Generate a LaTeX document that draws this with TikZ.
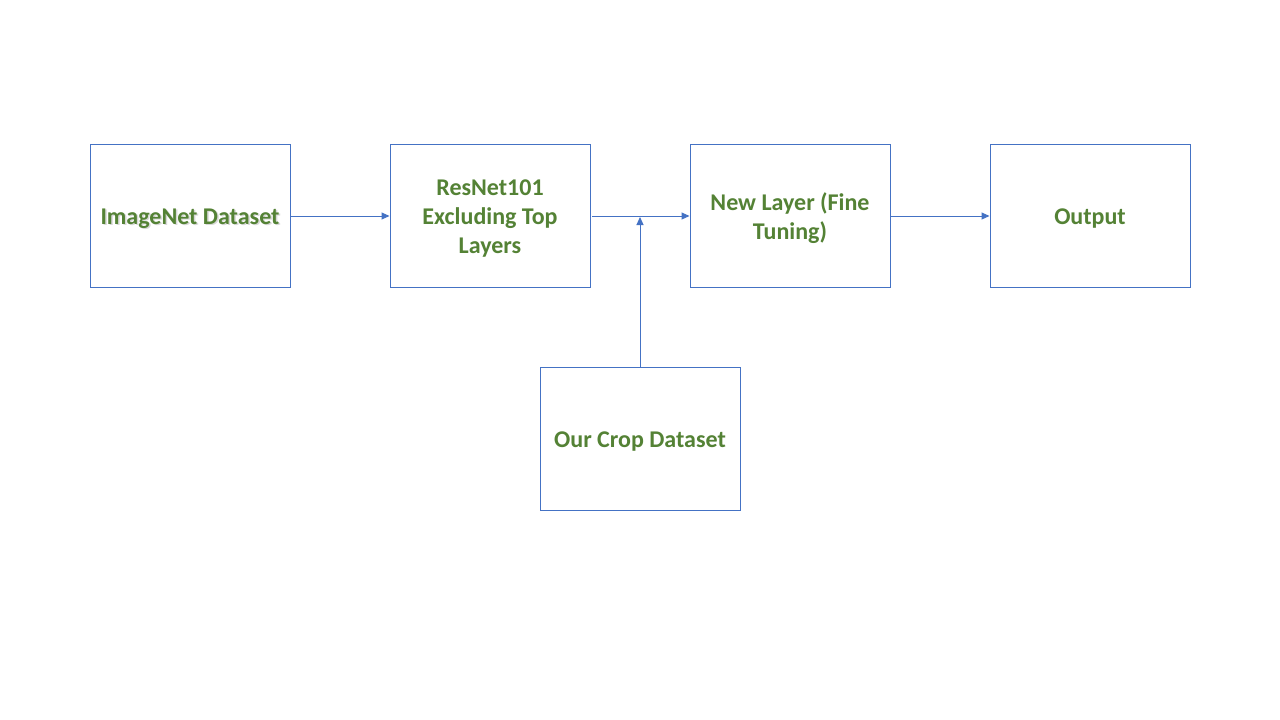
\documentclass[tikz,border=0pt]{standalone}
\usepackage{fontspec}
\setmainfont{Carlito}
\usetikzlibrary{arrows.meta}
\definecolor{boxblue}{HTML}{4472C4}
\definecolor{txtgreen}{HTML}{548235}
\tikzset{
  blkfont/.style={font=\fontsize{24}{29}\selectfont\bfseries},
  blk/.style={draw=boxblue, line width=1pt, minimum width=200pt, minimum height=143pt, inner sep=0pt},
  blktext/.style={align=center, text=txtgreen, blkfont, inner sep=0pt},
  conn/.style={draw=boxblue, line width=1pt, -{Triangle[length=8pt,width=7pt]}}
}
\begin{document}
\begin{tikzpicture}[x=1pt,y=-1pt]
\useasboundingbox (0,0) rectangle (1280,720);
\fill[white] (0,0) rectangle (1280,720);
\node[blk] (img) at (190,215.5) {};
\node[blk] (res) at (490,215.5) {};
\node[blk] (new) at (790,215.5) {};
\node[blk] (out) at (1090,215.5) {};
\node[blk] (crop) at (640,439) {};
\node[text=black!30, blkfont, opacity=0.5, inner sep=0pt] (imgshadow) at ([shift={(1.5,4.5)}]img.center) {ImageNet Dataset};
\node[blktext] (imgtext) at ([yshift=-3pt]img.center) {ImageNet Dataset};
\node[blktext] (restext) at ([yshift=-3pt]res.center) {ResNet101\\Excluding Top\\Layers};
\node[blktext] (newtext) at ([yshift=-3pt]new.center) {New Layer (Fine\\Tuning)};
\node[blktext] (outtext) at ([yshift=-3pt]out.center) {Output};
\node[blktext] (croptext) at ([yshift=-3pt]crop.center) {Our Crop Dataset};
\coordinate (resout) at (592,216);
\coordinate (join) at (640,217);
\draw[conn] (img.east |- resout) -- (res.west |- resout);
\draw[conn] (resout) -- (new.west |- resout);
\draw[conn] (crop.north) -- (join);
\draw[conn] (new.east |- resout) -- (out.west |- resout);
\end{tikzpicture}
\end{document}
